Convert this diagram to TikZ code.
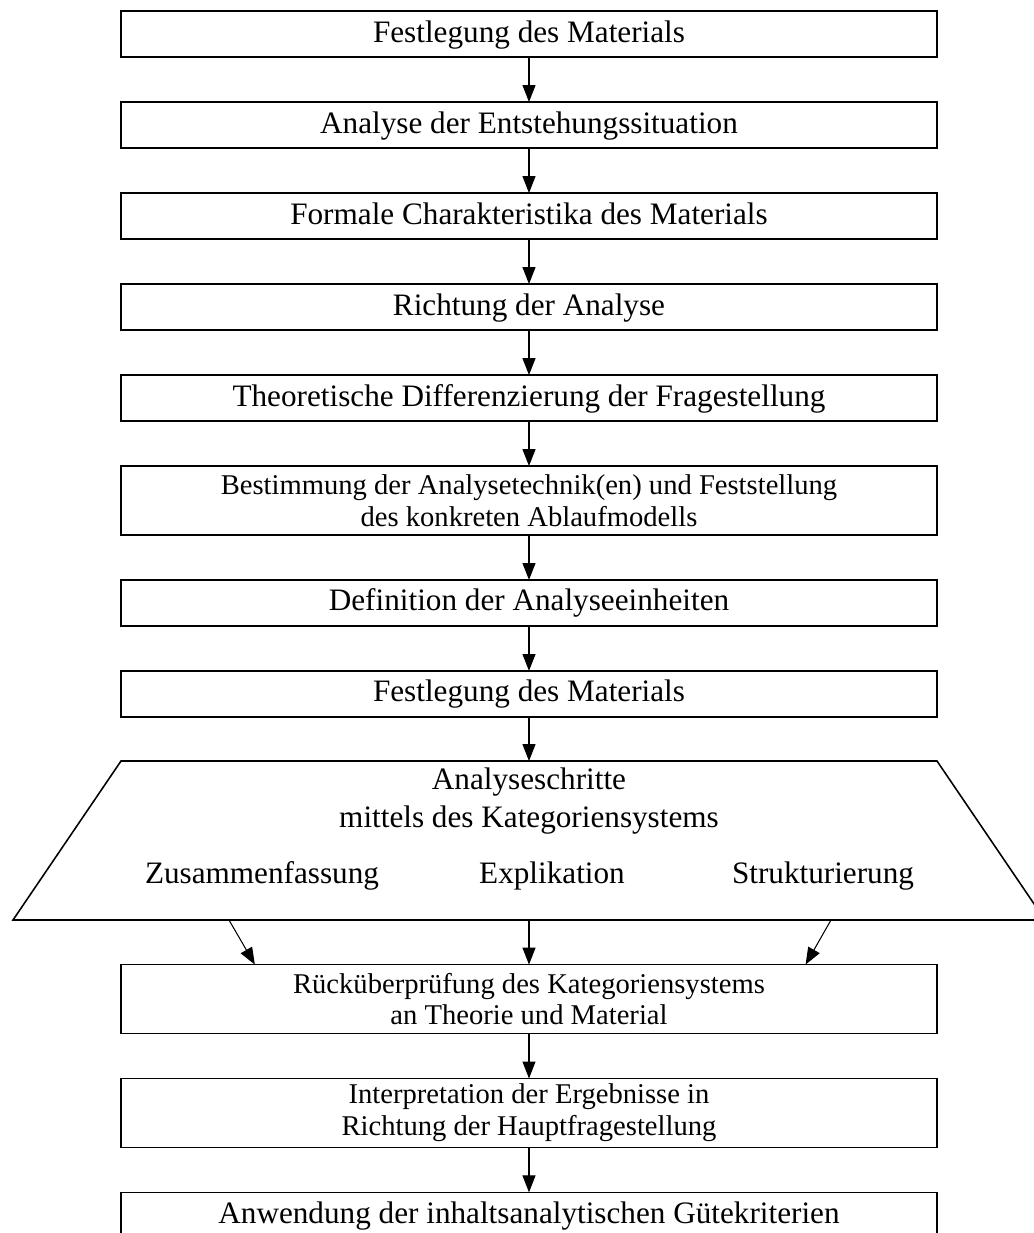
\documentclass[tikz,border=0pt]{standalone}
\usepackage{fontspec}
\setmainfont{Liberation Serif}
\usetikzlibrary{positioning, arrows.meta, calc}

\tikzset{
  stepbox/.style={draw, line width=.6pt, minimum width=313.8pt, minimum height=17.7pt,
    inner sep=0pt, outer sep=0pt, font=\fontsize{12}{14}\selectfont, text height=8.6pt, text depth=2.4pt},
  twobox/.style={draw, line width=.6pt, minimum width=313.8pt, minimum height=26.5pt,
    inner sep=0pt, outer sep=0pt, align=center, font=\fontsize{11}{12.2}\selectfont},
  schritt/.style={anchor=base, inner sep=0pt, font=\fontsize{12}{14}\selectfont},
  flow/.style={-{Triangle[length=6.5pt,width=5pt]}, line width=.4pt},
}

\begin{document}
\begin{tikzpicture}[x=0.3846pt, y=-0.3846pt, node distance=17.3pt]
  \useasboundingbox (0,0) rectangle (1033,1233);

  % upper chain
  \node[stepbox] (fest) at (529,34) {Festlegung des Materials};
  \node[stepbox, below=of fest] (entst) {Analyse der Entstehungssituation};
  \node[stepbox, below=of entst] (formal) {Formale Charakteristika des Materials};
  \node[stepbox, below=of formal] (richt) {Richtung der Analyse};
  \node[stepbox, below=of richt] (theorie) {Theoretische Differenzierung der Fragestellung};
  \node[twobox, below=of theorie] (technik)
    {Bestimmung der Analysetechnik(en) und Feststellung\\des konkreten Ablaufmodells};
  \node[stepbox, below=of technik] (einheit) {Definition der Analyseeinheiten};
  \node[stepbox, below=of einheit] (material) {Festlegung des Materials};

  % trapezoid
  \coordinate (schritteTop) at (529,761);
  \coordinate (abL) at (229,920);
  \coordinate (abM) at (529,920);
  \coordinate (abR) at (831,920);
  \draw[line width=.6pt] (121,761) -- (937,761) -- (1045,920) -- (13,920) -- cycle;
  \node[schritt] (titel) at (529,789) {Analyseschritte};
  \node[schritt] (mittels) at (529,827) {mittels des Kategoriensystems};
  \node[schritt] (zus) at (262,883) {Zusammenfassung};
  \node[schritt] (expl) at (552,883) {Explikation};
  \node[schritt] (struk) at (823,883) {Strukturierung};

  % lower chain
  \node[twobox] (rueck) at (529,999)
    {Rücküberprüfung des Kategoriensystems\\an Theorie und Material};
  \node[twobox, below=of rueck] (interp)
    {Interpretation der Ergebnisse in\\Richtung der Hauptfragestellung};
  \node[stepbox, below=of interp] (guete) {Anwendung der inhaltsanalytischen Gütekriterien};

  % arrows
  \foreach \a/\b in {fest/entst, entst/formal, formal/richt, richt/theorie,
                     theorie/technik, technik/einheit, einheit/material, rueck/interp, interp/guete}
    \draw[flow] (\a) -- (\b);
  \draw[flow] (material) -- (schritteTop);
  \draw[flow] (abL) -- ($(rueck.north west)!.164!(rueck.north east)$);
  \draw[flow] (abM) -- (rueck);
  \draw[flow] (abR) -- ($(rueck.north west)!.839!(rueck.north east)$);
\end{tikzpicture}
\end{document}
